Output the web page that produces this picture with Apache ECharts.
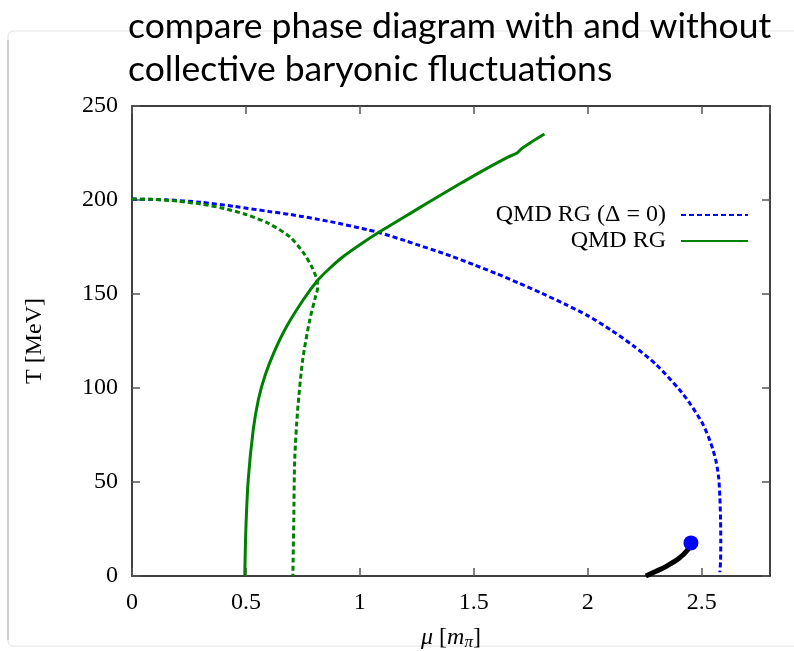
<!DOCTYPE html>
<html>
<head>
<meta charset="utf-8">
<script src="https://cdn.jsdelivr.net/npm/echarts@6/dist/echarts.min.js"></script>
<style>html,body{margin:0;padding:0;background:#fff}#c{width:794px;height:651px}</style>
</head>
<body>
<div id="c"></div>
<script>
// ---- data ----
const titleText = 'compare phase diagram with and without\ncollective baryonic fluctuations';
const legendNames = ['QMD RG (\u0394 = 0)', 'QMD RG'];

// blue dashed: QMD RG (Delta = 0)
const muBlue = [0, 0.15, 0.3, 0.45, 0.6, 0.69, 0.87, 1.04, 1.087, 1.2, 1.4, 1.5, 1.6, 1.7, 1.8, 1.9, 2.0, 2.1, 2.2, 2.3, 2.4, 2.45, 2.5, 2.53, 2.55, 2.565, 2.575, 2.58, 2.583, 2.584, 2.583, 2.580];
const TBlue  = [200.5, 200.1, 198.8, 196.6, 193.9, 192.4, 188.5, 184, 182.6, 178.3, 170.2, 165.6, 160.8, 155.7, 150.3, 144.6, 138.5, 131, 122.5, 112.5, 99.5, 91.5, 82, 74, 67, 60, 52, 42, 30, 18, 8, 2];

// green solid: QMD RG
const muGreen = [0.495, 0.4996, 0.51, 0.532, 0.555, 0.585, 0.625, 0.678, 0.751, 0.816, 0.868, 0.926, 1.0, 1.087, 1.25, 1.35, 1.45, 1.55, 1.65, 1.69, 1.71, 1.75, 1.81];
const TGreen  = [0, 24.5, 51, 77.7, 94, 107, 119.5, 132.6, 146.8, 157.4, 163.7, 169.8, 176.2, 183.1, 195, 202.3, 209.4, 216.3, 222.8, 225.0, 227.3, 230.6, 235.1];

// green dashed (unlabelled)
const muGreenD = [0, 0.1, 0.2, 0.3, 0.4, 0.5, 0.6, 0.692, 0.749, 0.789, 0.811, 0.815, 0.806, 0.780, 0.749, 0.727, 0.714, 0.710, 0.706];
const TGreenD  = [200.5, 200.3, 199.4, 197.9, 195.6, 192.3, 187.5, 180.5, 172.5, 164.5, 157.8, 153.5, 148.9, 136.2, 114.9, 88.3, 61.7, 29.8, 0];

// black solid first-order line and critical end point
const muBlack = [2.255, 2.30, 2.343, 2.401, 2.438, 2.453];
const TBlack  = [0, 2.5, 5, 9.4, 13.8, 17.4];
const cep = [2.453, 17.6];

const xTicks = {min: 0, max: 2.8, interval: 0.5};
const yTicks = {min: 0, max: 250, interval: 50};

const zip = (a, b) => a.map((v, i) => [v, b[i]]);
const serif = "'Liberation Serif', 'Times New Roman', serif";

const chart = echarts.init(document.getElementById('c'));
const axisCommon = {
  type: 'value',
  axisLine: {show: true, onZero: false, lineStyle: {color: '#000', width: 1.5}},
  axisTick: {show: true, inside: true, length: 8, lineStyle: {color: '#555', width: 1.5}},
  splitLine: {show: false}
};
chart.setOption({
  animation: false,
  backgroundColor: '#fff',
  title: {
    text: titleText, left: 123, top: 0,
    textStyle: {fontFamily: 'Lato', fontWeight: 'normal', fontSize: 35.5, lineHeight: 43, color: '#000'}
  },
  graphic: [
    {type: 'rect', z: -10, silent: true, shape: {x: 8, y: 31, width: 800, height: 615, r: 5},
     style: {fill: 'none', stroke: '#e2e2e2', lineWidth: 1}},
    {type: 'line', z: -9, silent: true, shape: {x1: 8, y1: 40, x2: 8, y2: 640},
     style: {stroke: '#cfcfcf', lineWidth: 2}}
  ],
  grid: {left: 132, right: 24, top: 106, bottom: 75, containLabel: false, outerBoundsMode: 'none'},
  legend: {
    data: legendNames, orient: 'vertical', right: 40, top: 197, align: 'right',
    itemWidth: 67, itemHeight: 26, itemGap: 0,
    itemStyle: {opacity: 0},
    textStyle: {fontFamily: serif, fontSize: 24, color: '#000', padding: [0, 10, 0, 0], lineHeight: 26}
  },
  xAxis: [
    Object.assign({}, axisCommon, {
      position: 'bottom', min: xTicks.min, max: xTicks.max, interval: xTicks.interval,
      axisLabel: {show: true, margin: 15, fontFamily: serif, fontSize: 24, color: '#000', showMaxLabel: false},
      name: '{i|\u03bc} [{i|m}{s|\u03c0}]', nameLocation: 'middle', nameGap: 49,
      nameTextStyle: {fontFamily: serif, fontSize: 24, color: '#000', lineHeight: 26,
        rich: {
          i: {fontFamily: serif, fontSize: 24, fontStyle: 'italic', color: '#000', lineHeight: 26},
          s: {fontFamily: serif, fontSize: 17, fontStyle: 'italic', color: '#000', lineHeight: 14, verticalAlign: 'bottom'}
        }}
    }),
    Object.assign({}, axisCommon, {
      position: 'top', min: xTicks.min, max: xTicks.max, interval: xTicks.interval,
      axisLabel: {show: false}
    })
  ],
  yAxis: [
    Object.assign({}, axisCommon, {
      position: 'left', min: yTicks.min, max: yTicks.max, interval: yTicks.interval,
      axisLabel: {show: true, margin: 14, fontFamily: serif, fontSize: 24, color: '#000'},
      name: 'T [MeV]', nameLocation: 'middle', nameGap: 85, nameRotate: 90,
      nameTextStyle: {fontFamily: serif, fontSize: 24, color: '#000'}
    }),
    Object.assign({}, axisCommon, {
      position: 'right', min: yTicks.min, max: yTicks.max, interval: yTicks.interval,
      axisLabel: {show: false}
    })
  ],
  series: [
    {name: legendNames[0], type: 'line', data: zip(muBlue, TBlue), symbol: 'none', smooth: 0.25,
     lineStyle: {color: '#0000ff', width: 3, type: [5, 3]}, itemStyle: {color: '#0000ff'}, z: 3},
    {name: legendNames[1], type: 'line', data: zip(muGreen, TGreen), symbol: 'none', smooth: 0.25,
     lineStyle: {color: '#008000', width: 3, type: 'solid'}, itemStyle: {color: '#008000'}, z: 4},
    {name: 'green dashed', type: 'line', data: zip(muGreenD, TGreenD), symbol: 'none', smooth: 0.25,
     lineStyle: {color: '#008000', width: 3, type: [5, 3]}, itemStyle: {color: '#008000'}, z: 3},
    {name: 'first order', type: 'line', data: zip(muBlack, TBlack), symbol: 'none', smooth: 0.3,
     lineStyle: {color: '#000', width: 5}, itemStyle: {color: '#000'}, z: 5},
    {name: 'CEP', type: 'scatter', data: [cep], symbol: 'circle', symbolSize: 15,
     itemStyle: {color: '#0000ff', opacity: 1}, z: 6}
  ]
});
</script>
</body>
</html>
